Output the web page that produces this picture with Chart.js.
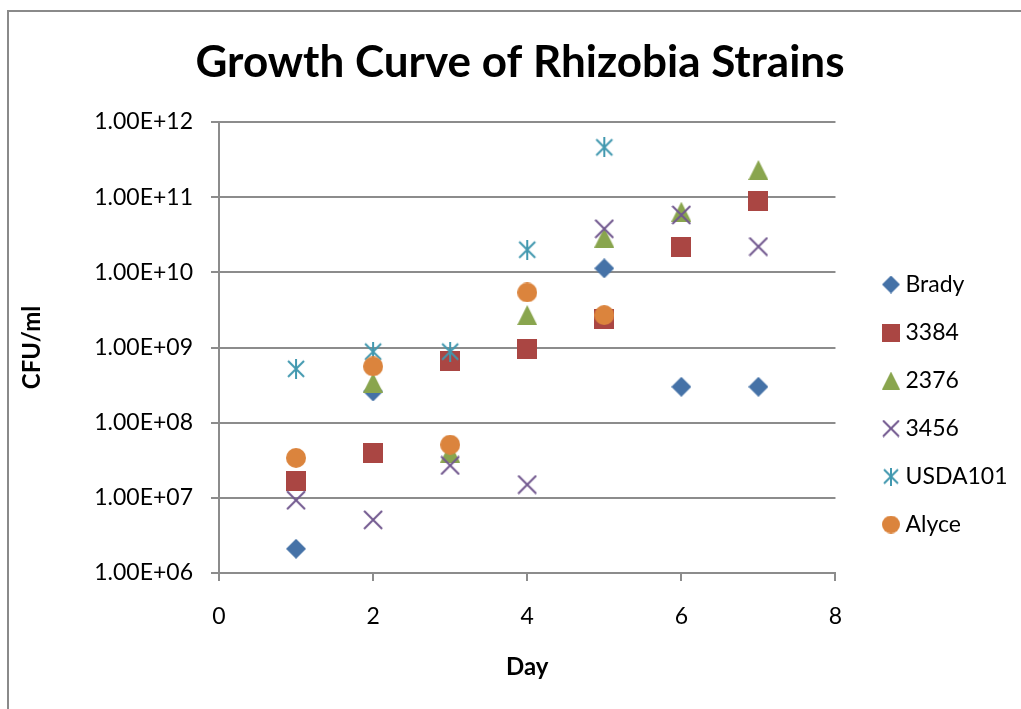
<!DOCTYPE html>
<html>
<head>
<meta charset="utf-8">
<script src="https://cdn.jsdelivr.net/npm/chart.js@4.4.1/dist/chart.umd.min.js"></script>
<style>
  body { margin: 0; background: #fff; }
  #wrap { position: relative; width: 1021px; height: 709px; }
  #frame { position: absolute; left: 7px; top: 10px; right: 0; bottom: 0;
           border-left: 2px solid #8a8a8a; border-top: 2px solid #8a8a8a; }
  #myChart { position: absolute; left: 0; top: 0; }
</style>
</head>
<body>
<div id="wrap">
  <div id="frame"></div>
  <canvas id="myChart" width="1021" height="709"></canvas>
</div>
<script>
var days = [1, 2, 3, 4, 5, 6, 7];

// CFU/ml per day, null where the strain has no reading
var brady   = [2.1e6, 2.6e8, null, null, 1.13e10, 3.0e8, 3.0e8];
var s3384   = [1.7e7, 4.0e7, 6.6e8, 9.5e8, 2.4e9, 2.2e10, 9.0e10];
var s2376   = [null, 3.4e8, 4.0e7, 2.7e9, 2.9e10, 6.4e10, 2.3e11];
var s3456   = [9.3e6, 5.1e6, 2.7e7, 1.5e7, 3.8e10, 5.8e10, 2.2e10];
var usda101 = [5.2e8, 8.8e8, 8.8e8, 2.0e10, 4.6e11, null, null];
var alyce   = [3.4e7, 5.6e8, 5.1e7, 5.4e9, 2.7e9, null, null];

var yTicks = [1e6, 1e7, 1e8, 1e9, 1e10, 1e11, 1e12];
var yTickLabels = ['1.00E+06', '1.00E+07', '1.00E+08', '1.00E+09', '1.00E+10', '1.00E+11', '1.00E+12'];
var xTicks = [0, 2, 4, 6, 8];

var axisGray = '#8c8c8c';

function points(values) {
    return days.map(function (d, i) { return { x: d, y: values[i] }; })
               .filter(function (p) { return p.y !== null; });
}

// Excel-style marker drawn on a small canvas, used as pointStyle
function marker(shape, color, size) {
    var c = document.createElement('canvas');
    c.width = c.height = size;
    var g = c.getContext('2d');
    var m = size / 2;
    g.fillStyle = color;
    g.strokeStyle = color;
    g.lineWidth = 2;
    g.beginPath();
    if (shape === 'diamond') {
        g.moveTo(m, 0); g.lineTo(size, m); g.lineTo(m, size); g.lineTo(0, m);
        g.closePath(); g.fill();
    } else if (shape === 'square') {
        g.fillRect(0, 0, size, size);
    } else if (shape === 'triangle') {
        g.moveTo(m, 0); g.lineTo(size, size); g.lineTo(0, size);
        g.closePath(); g.fill();
    } else if (shape === 'circle') {
        g.arc(m, m, m, 0, Math.PI * 2); g.fill();
    } else if (shape === 'x') {
        g.moveTo(1, 1); g.lineTo(size - 1, size - 1);
        g.moveTo(size - 1, 1); g.lineTo(1, size - 1);
        g.stroke();
    } else if (shape === 'star') {
        g.moveTo(m, 0); g.lineTo(m, size);
        g.moveTo(2, 2); g.lineTo(size - 2, size - 2);
        g.moveTo(size - 2, 2); g.lineTo(2, size - 2);
        g.stroke();
    }
    return c;
}

var series = [
    { label: 'Brady',   values: brady,   shape: 'diamond',  color: '#4572a7' },
    { label: '3384',    values: s3384,   shape: 'square',   color: '#aa4643' },
    { label: '2376',    values: s2376,   shape: 'triangle', color: '#89a54e' },
    { label: '3456',    values: s3456,   shape: 'x',        color: '#71588f' },
    { label: 'USDA101', values: usda101, shape: 'star',     color: '#4198af' },
    { label: 'Alyce',   values: alyce,   shape: 'circle',   color: '#db843d' }
];

var legendMarks = series.map(function (s) { return marker(s.shape, s.color, 18); });

// Excel keeps the legend below the title and a little off the plot
var excelPlacement = {
    id: 'excelPlacement',
    afterLayout: function (chart) {
        var lg = chart.legend;
        var dx = 863 - lg.left;
        lg.left += dx; lg.right += dx;
        lg.top = 100;
        chart.titleBlock.left += 25;
        chart.titleBlock.right += 25;
    }
};

Chart.defaults.font.family = 'Lato';
Chart.defaults.color = '#000';

var ctx = document.getElementById('myChart').getContext('2d');
var myChart = new Chart(ctx, {
    type: 'scatter',
    data: {
        datasets: series.map(function (s, i) {
            return {
                label: s.label,
                data: points(s.values),
                pointStyle: marker(s.shape, s.color, 20),
                pointRadius: 10,
                pointHoverRadius: 10,
                backgroundColor: s.color,
                borderColor: s.color,
                order: series.length - i
            };
        })
    },
    options: {
        responsive: false,
        animation: false,
        layout: { padding: { left: 0, right: 31, top: 0, bottom: 0 } },
        plugins: {
            title: {
                display: true,
                text: 'Growth Curve of Rhizobia Strains',
                font: { size: 44, weight: 'bold', lineHeight: '53px' },
                padding: { top: 36, bottom: 33 }
            },
            legend: {
                position: 'right',
                labels: {
                    usePointStyle: true,
                    pointStyleWidth: 6,
                    padding: 25,
                    font: { size: 23 },
                    sort: function (a, b) { return a.datasetIndex - b.datasetIndex; },
                    generateLabels: function (chart) {
                        var items = Chart.defaults.plugins.legend.labels.generateLabels(chart);
                        items.forEach(function (it) { it.pointStyle = legendMarks[it.datasetIndex]; });
                        return items;
                    }
                }
            },
            tooltip: { enabled: false }
        },
        scales: {
            x: {
                type: 'linear',
                min: 0,
                max: 8,
                afterBuildTicks: function (scale) {
                    scale.ticks = xTicks.map(function (v) { return { value: v }; });
                },
                afterFit: function (scale) { scale.height = 709 - 573; },
                grid: { drawOnChartArea: false, color: axisGray, lineWidth: 2, tickLength: 8 },
                border: { color: axisGray, width: 2 },
                ticks: { font: { size: 23 }, padding: 22 },
                title: {
                    display: true,
                    text: 'Day',
                    font: { size: 24, weight: 'bold' },
                    padding: { top: 0, bottom: 27 }
                }
            },
            y: {
                type: 'logarithmic',
                min: 1e6,
                max: 1e12,
                afterBuildTicks: function (scale) {
                    scale.ticks = yTicks.map(function (v) { return { value: v }; });
                },
                afterFit: function (scale) { scale.width = 219; },
                grid: { color: axisGray, lineWidth: 2, tickLength: 8 },
                border: { color: axisGray, width: 2 },
                ticks: {
                    font: { size: 23 },
                    padding: 18,
                    callback: function (value) { return yTickLabels[yTicks.indexOf(value)]; }
                },
                title: {
                    display: true,
                    text: 'CFU/ml',
                    font: { size: 24, weight: 'bold' },
                    padding: { top: 18, bottom: 0 }
                }
            }
        }
    },
    plugins: [excelPlacement]
});
</script>
</body>
</html>
